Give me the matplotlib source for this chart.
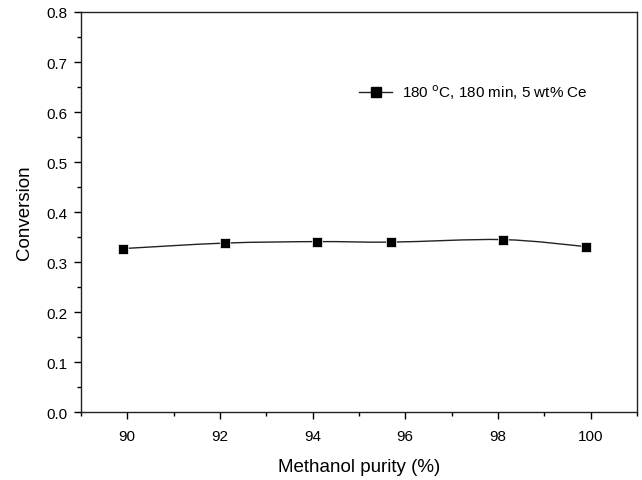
import numpy as np
from matplotlib import pyplot as plt
from matplotlib.path import Path
from matplotlib.patches import PathPatch
from matplotlib.lines import Line2D
from matplotlib.ticker import MultipleLocator

plt.rcParams['font.family'] = ['Liberation Sans', 'DejaVu Sans']

# data
purity = [89.9, 92.1, 94.1, 95.7, 98.1, 99.9]
conversion = [0.327, 0.338, 0.341, 0.340, 0.345, 0.331]
series_label = "180 $^{\\rm o}$C, 180 min, 5 wt% Ce"


def smooth_path(x, y):
    # Catmull-Rom through the points, drawn as cubic Bezier segments
    x = np.asarray(x, float)
    y = np.asarray(y, float)
    px = np.concatenate([[x[0]], x, [x[-1]]])
    py = np.concatenate([[y[0]], y, [y[-1]]])
    verts = [(x[0], y[0])]
    codes = [Path.MOVETO]
    for i in range(1, len(px) - 2):
        c1 = (px[i] + (px[i + 1] - px[i - 1]) / 6, py[i] + (py[i + 1] - py[i - 1]) / 6)
        c2 = (px[i + 1] - (px[i + 2] - px[i]) / 6, py[i + 1] - (py[i + 2] - py[i]) / 6)
        verts += [c1, c2, (px[i + 1], py[i + 1])]
        codes += [Path.CURVE4] * 3
    return Path(verts, codes)


fig = plt.figure(figsize=(6.42, 4.81), dpi=100)
ax = fig.add_axes([0.126, 0.141, 0.866, 0.832])

ax.add_patch(PathPatch(smooth_path(purity, conversion), fill=False,
                       edgecolor='#222222', lw=1.0))
ax.plot(purity, conversion, ls='none', marker='s', ms=6.5,
        color='black', mec='white', mew=0.5)

ax.set_xlim(89, 101)
ax.set_ylim(0, 0.8)
ax.xaxis.set_major_locator(MultipleLocator(2))
ax.xaxis.set_minor_locator(MultipleLocator(1))
ax.yaxis.set_major_locator(MultipleLocator(0.1))
ax.yaxis.set_minor_locator(MultipleLocator(0.05))
ax.yaxis.set_major_formatter(plt.FormatStrFormatter('%.1f'))
ax.tick_params(which='major', direction='out', length=5, width=1, labelsize=11, pad=5)
ax.tick_params(which='minor', direction='out', length=3, width=1)
ax.tick_params(axis='x', pad=7)
for s in ax.spines.values():
    s.set_linewidth(1.0)
    s.set_color('#222222')

ax.set_xlabel("Methanol purity (%)", fontsize=13.5, labelpad=11)
ax.set_ylabel("Conversion", fontsize=13.5, labelpad=9)

handle = Line2D([], [], color='#222222', lw=1.0, marker='s', ms=6.5,
                mfc='black', mec='black')
ax.legend([handle], [series_label], loc='center left', bbox_to_anchor=(0.5, 0.8),
          frameon=False, fontsize=11, borderpad=0, borderaxespad=0,
          handlelength=2.2, handletextpad=0.6)

fig.savefig("out.png", dpi=100)
